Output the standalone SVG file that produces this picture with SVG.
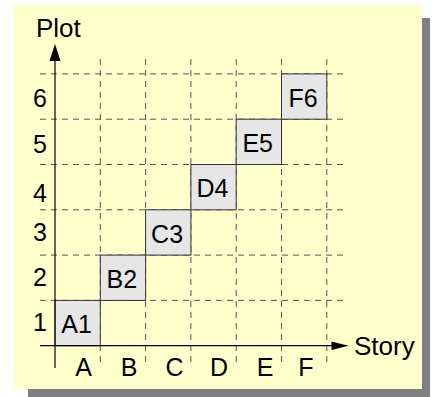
<svg xmlns="http://www.w3.org/2000/svg" width="432" height="397" viewBox="0 0 432 397">
<style>
.t{font-family:"Liberation Sans",Arial,sans-serif;font-size:25px;fill:#000}
.h{font-size:26px}
.m{text-anchor:middle}
.g{stroke:#555;stroke-width:1;stroke-dasharray:6,5;fill:none}
.ax{stroke:#000;stroke-width:1.2;fill:none}
.box rect{fill:#e6e6e6;stroke:#333;stroke-width:1}
</style>
<rect x="28" y="18" width="402" height="379" fill="#808080"/>
<rect x="14" y="5" width="408" height="384" fill="#ffffcc"/>
<g id="grid">
<path class="g" d="M40 300.4H343M40 255.1H343M40 209.8H343M40 164.5H343M40 119.2H343M40 73.9H343"/>
<path class="g" d="M100.3 59V364M145.6 59V364M190.9 59V364M236.2 59V364M281.5 59V364M326.8 59V364"/>
</g>
<g id="A1" class="box"><rect x="55" y="300.4" width="45.3" height="45.3"/><text class="t m" x="76.5" y="333.3">A1</text></g>
<g id="B2" class="box"><rect x="100.3" y="255.1" width="45.3" height="45.3"/><text class="t m" x="121.8" y="288">B2</text></g>
<g id="C3" class="box"><rect x="145.6" y="209.8" width="45.3" height="45.3"/><text class="t m" x="167.1" y="242.7">C3</text></g>
<g id="D4" class="box"><rect x="190.9" y="164.5" width="45.3" height="45.3"/><text class="t m" x="212.4" y="197.4">D4</text></g>
<g id="E5" class="box"><rect x="236.2" y="119.2" width="45.3" height="45.3"/><text class="t m" x="257.7" y="152.1">E5</text></g>
<g id="F6" class="box"><rect x="281.5" y="73.9" width="45.3" height="45.3"/><text class="t m" x="303" y="106.8">F6</text></g>
<g id="connectors">
<path class="ax" d="M55 368V58"/>
<polygon points="55,44 60.5,61 49.5,61" fill="#000"/>
<path class="ax" d="M40 345.7H334"/>
<polygon points="348.5,345.7 331.5,341.5 331.5,350" fill="#000"/>
</g>
<g id="labels">
<text class="t h" x="36" y="36.7">Plot</text>
<text class="t h" x="354" y="355">Story</text>
<text class="t m" x="40" y="107.3">6</text>
<text class="t m" x="40" y="153.3">5</text>
<text class="t m" x="40" y="202">4</text>
<text class="t m" x="40" y="240.7">3</text>
<text class="t m" x="40" y="285.7">2</text>
<text class="t m" x="40" y="330.7">1</text>
<text class="t m" x="83.5" y="375.7">A</text>
<text class="t m" x="129" y="375.7">B</text>
<text class="t m" x="174.5" y="375.7">C</text>
<text class="t m" x="219" y="375.7">D</text>
<text class="t m" x="265" y="375.7">E</text>
<text class="t m" x="306" y="375.7">F</text>
</g>
</svg>
